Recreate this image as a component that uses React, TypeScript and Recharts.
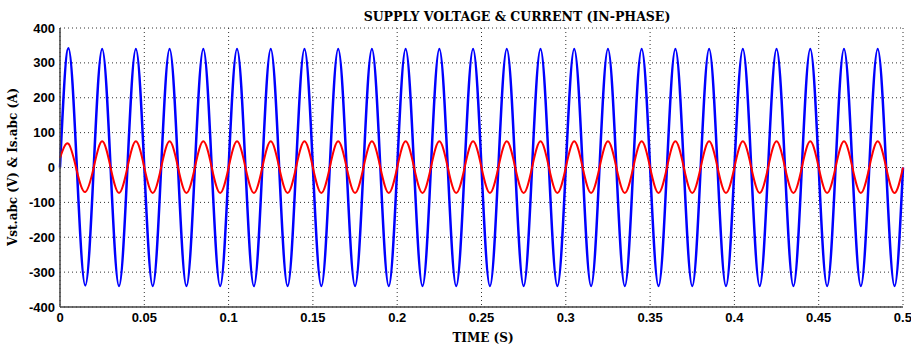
import { LineChart, Line, XAxis, YAxis, CartesianGrid } from 'recharts';

// sample times (s), quarter-cycle points of the 50 Hz waveforms
const times = [
  0, 0.005, 0.01, 0.015, 0.02, 0.025, 0.03, 0.035, 0.04, 0.045,
  0.05, 0.055, 0.06, 0.065, 0.07, 0.075, 0.08, 0.085, 0.09, 0.095,
  0.1, 0.105, 0.11, 0.115, 0.12, 0.125, 0.13, 0.135, 0.14, 0.145,
  0.15, 0.155, 0.16, 0.165, 0.17, 0.175, 0.18, 0.185, 0.19, 0.195,
  0.2, 0.205, 0.21, 0.215, 0.22, 0.225, 0.23, 0.235, 0.24, 0.245,
  0.25, 0.255, 0.26, 0.265, 0.27, 0.275, 0.28, 0.285, 0.29, 0.295,
  0.3, 0.305, 0.31, 0.315, 0.32, 0.325, 0.33, 0.335, 0.34, 0.345,
  0.35, 0.355, 0.36, 0.365, 0.37, 0.375, 0.38, 0.385, 0.39, 0.395,
  0.4, 0.405, 0.41, 0.415, 0.42, 0.425, 0.43, 0.435, 0.44, 0.445,
  0.45, 0.455, 0.46, 0.465, 0.47, 0.475, 0.48, 0.485, 0.49, 0.495,
  0.5,
];

// Vs.abc (V)
const voltage = [
  0, 342, 0, -338, 0, 340, 0, -340, 0, 340,
  0, -340, 0, 340, 0, -340, 0, 340, 0, -340,
  0, 340, 0, -340, 0, 340, 0, -340, 0, 340,
  0, -340, 0, 340, 0, -340, 0, 340, 0, -340,
  0, 340, 0, -340, 0, 340, 0, -340, 0, 340,
  0, -340, 0, 340, 0, -340, 0, 340, 0, -340,
  0, 340, 0, -340, 0, 340, 0, -340, 0, 340,
  0, -340, 0, 340, 0, -340, 0, 340, 0, -340,
  0, 340, 0, -340, 0, 340, 0, -340, 0, 340,
  0, -340, 0, 340, 0, -340, 0, 340, 0, -340,
  0,
];

// Is.abc (A)
const current = [
  27, 68, -10, -70, 0, 75, 0, -73, 0, 75,
  0, -73, 0, 75, 0, -73, 0, 75, 0, -73,
  0, 75, 0, -73, 0, 75, 0, -73, 0, 75,
  0, -73, 0, 75, 0, -73, 0, 75, 0, -73,
  0, 75, 0, -73, 0, 75, 0, -73, 0, 75,
  0, -73, 0, 75, 0, -73, 0, 75, 0, -73,
  0, 75, 0, -73, 0, 75, 0, -73, 0, 75,
  0, -73, 0, 75, 0, -73, 0, 75, 0, -73,
  0, 75, 0, -73, 0, 75, 0, -73, 0, 75,
  0, -73, 0, 75, 0, -73, 0, 75, 0, -73,
  0,
];

const xTicks = [0, 0.05, 0.1, 0.15, 0.2, 0.25, 0.3, 0.35, 0.4, 0.45, 0.5];
const yTicks = [-400, -300, -200, -100, 0, 100, 200, 300, 400];

const data = times.map((t, i) => ({ t, vs: voltage[i], is: current[i] }));

const tickFont = { fill: '#000', fontSize: 13, fontWeight: 700, fontFamily: '"Liberation Sans", Arial, sans-serif' };
const labelFont = { fontFamily: '"DejaVu Serif", serif', fontWeight: 700, color: '#000', position: 'absolute' as const, whiteSpace: 'nowrap' as const };
const axisStroke = { stroke: '#444', strokeWidth: 1.5 };

export default function App() {
  return (
    <div style={{ position: 'absolute', left: 0, top: 0, width: 911, height: 347, background: '#fff', overflow: 'hidden' }}>
      <LineChart width={911} height={347} data={data} margin={{ top: 28, right: 8, bottom: 0, left: 0 }}>
        <CartesianGrid stroke="#333" strokeDasharray="1 3" />
        <XAxis xAxisId={0} dataKey="t" type="number" domain={[0, 0.5]} ticks={xTicks} height={40}
          tickLine={false} tickSize={0} tickMargin={6} axisLine={axisStroke} tick={tickFont}
          tickFormatter={(v) => String(v)} />
        <XAxis xAxisId="bIn" dataKey="t" type="number" domain={[0, 0.5]} ticks={xTicks} height={0}
          mirror tick={false} tickSize={6} axisLine={false} tickLine={{ stroke: '#444' }} />
        <XAxis xAxisId="top" orientation="top" dataKey="t" type="number" domain={[0, 0.5]} ticks={xTicks} height={0}
          mirror tick={false} tickSize={6} axisLine={axisStroke} tickLine={{ stroke: '#444' }} />
        <YAxis yAxisId={0} type="number" domain={[-400, 400]} ticks={yTicks} width={60}
          tickLine={false} tickSize={0} tickMargin={5} axisLine={axisStroke} tick={tickFont} />
        <YAxis yAxisId="lIn" type="number" domain={[-400, 400]} ticks={yTicks} width={0}
          mirror tick={false} tickSize={6} axisLine={false} tickLine={{ stroke: '#444' }} />
        <YAxis yAxisId="right" orientation="right" type="number" domain={[-400, 400]} ticks={yTicks} width={0}
          mirror tick={false} tickSize={6} axisLine={axisStroke} tickLine={{ stroke: '#444' }} />
        <Line dataKey="vs" type="natural" stroke="#0000ff" strokeWidth={2.5} dot={false} isAnimationActive={false} />
        <Line dataKey="is" type="natural" stroke="#ff0000" strokeWidth={2} dot={false} isAnimationActive={false} />
      </LineChart>
      <div style={{ ...labelFont, fontSize: 12.5, left: 517, top: 16, transform: 'translate(-50%, -50%)' }}>
        SUPPLY VOLTAGE &amp; CURRENT (IN-PHASE)
      </div>
      <div style={{ ...labelFont, fontSize: 12, left: 483, top: 338, transform: 'translate(-50%, -50%)' }}>
        TIME (S)
      </div>
      <div style={{ ...labelFont, fontSize: 12, left: 13, top: 167, transform: 'translate(-50%, -50%) rotate(-90deg)' }}>
        Vst.abc (V) &amp; Is.abc (A)
      </div>
    </div>
  );
}
